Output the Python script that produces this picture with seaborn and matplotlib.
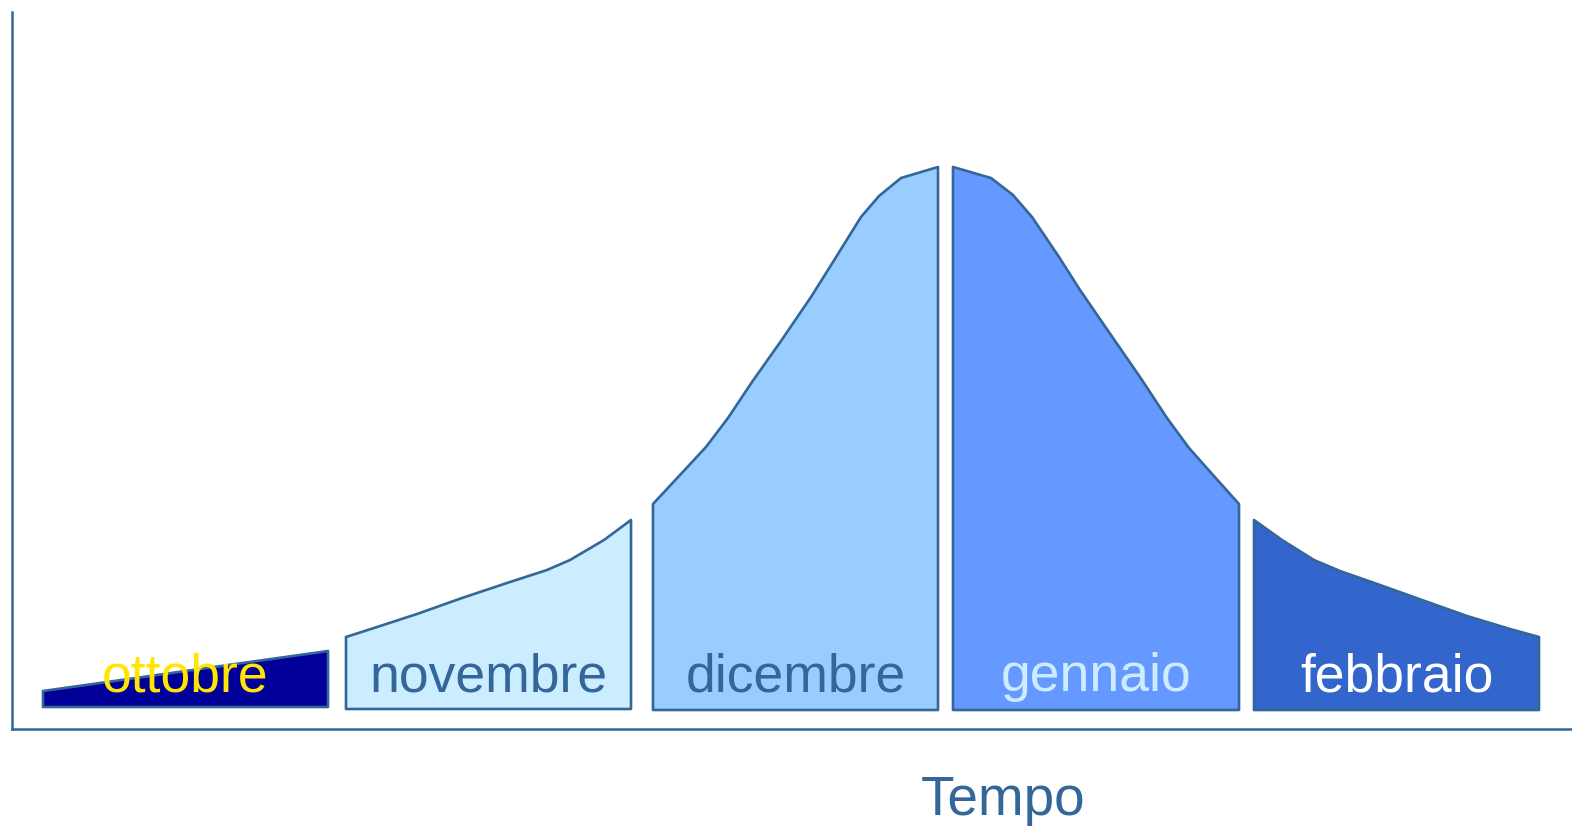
import matplotlib
matplotlib.use('Agg')
import matplotlib.pyplot as plt
import seaborn as sns
import pandas as pd

# months (stage label, fill colour, label colour)
months = ["ottobre", "novembre", "dicembre", "gennaio", "febbraio"]
fill_colors = ["#000099", "#CCECFF", "#99CCFF", "#6699FF", "#3366CC"]
text_colors = ["#FFE500", "#336699", "#336699", "#CCECFF", "#FFFFFF"]
edge_color = "#336699"

# upper profile of each block: time position and height above the axis
ott_t = [30, 315]
ott_h = [38, 78]
nov_t = [333, 361, 404, 449, 494, 534, 557, 591, 618]
nov_h = [92, 101, 115, 131, 146, 159, 169, 189, 209]
dic_t = [640, 667, 693, 715, 739, 768, 798, 820, 848, 866, 888, 925]
dic_h = [225, 254, 282, 311, 347, 388, 432, 467, 512, 533, 551, 562]
gen_t = [940, 978, 1000, 1019, 1046, 1067, 1100, 1127, 1154, 1176, 1200, 1226]
gen_h = [562, 551, 534, 512, 472, 439, 391, 352, 311, 281, 254, 225]
feb_t = [1241, 1269, 1301, 1327, 1367, 1409, 1454, 1497, 1526]
feb_h = [209, 189, 169, 158, 144, 129, 113, 100, 92]
base_h = [22, 20, 19, 19, 19]

profiles = [(ott_t, ott_h), (nov_t, nov_h), (dic_t, dic_h),
            (gen_t, gen_h), (feb_t, feb_h)]

rows = []
for m, (t, h) in zip(months, profiles):
    for ti, hi in zip(t, h):
        rows.append({"mese": m, "t": ti, "h": hi})
df = pd.DataFrame(rows)

sns.set_theme(style="white")
plt.rcParams['font.family'] = ['Liberation Sans', 'DejaVu Sans']

fig = plt.figure(figsize=(15.72, 8.26), dpi=100)
ax = fig.add_axes([12 / 1572, 97 / 826, 1560 / 1572, 717 / 826])

for i, m in enumerate(months):
    sub = df[df["mese"] == m]
    t = list(sub["t"])
    h = list(sub["h"])
    xs = t + [t[-1], t[0]]
    ys = h + [base_h[i], base_h[i]]
    ax.fill(xs, ys, facecolor=fill_colors[i], edgecolor=edge_color,
            linewidth=1.9, joinstyle='round', zorder=2)
    ax.text((t[0] + t[-1]) / 2, 38, m, color=text_colors[i],
            fontsize=38.5, ha='center', va='baseline', zorder=3)

ax.set_xlim(-1, 1559)
ax.set_ylim(0, 717)
ax.set_xticks([])
ax.set_yticks([])
ax.set_xlabel("")
ax.set_ylabel("")
for side in ["top", "right"]:
    ax.spines[side].set_visible(False)
for side in ["left", "bottom"]:
    ax.spines[side].set_color(edge_color)
    ax.spines[side].set_linewidth(1.8)

fig.text(1003 / 1572, 1 - 815 / 826, "Tempo", color=edge_color,
         fontsize=39.5, ha='center', va='baseline')

fig.savefig("out.png", dpi=100, facecolor="white")
